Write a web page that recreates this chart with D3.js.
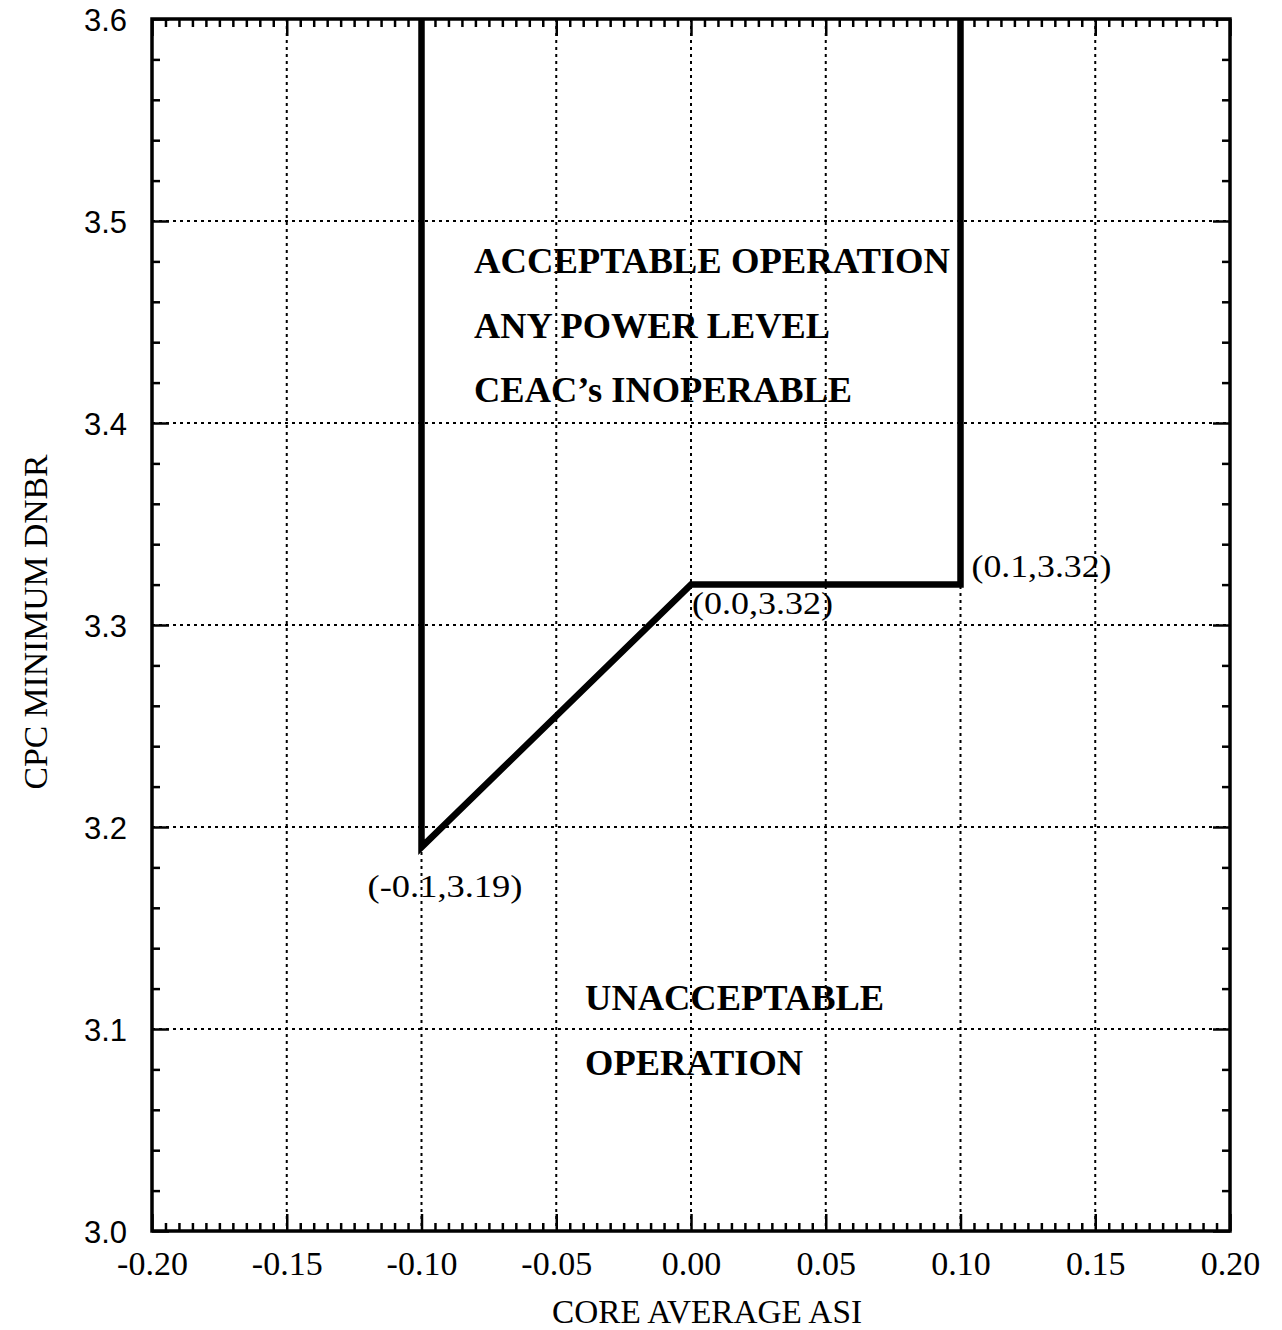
<!DOCTYPE html>
<html><head><meta charset="utf-8">
<script src="https://cdn.jsdelivr.net/npm/d3@7"></script>
<style>body{margin:0;background:#fff;} svg{display:block;font-family:"Liberation Serif","Times New Roman",serif;}</style>
</head><body>
<svg id="c" width="1282" height="1330"></svg>
<script>
const xTicks = [-0.20,-0.15,-0.10,-0.05,0.00,0.05,0.10,0.15,0.20];
const xTickLabels = ["-0.20","-0.15","-0.10","-0.05","0.00","0.05","0.10","0.15","0.20"];
const yTicks = [3.0,3.1,3.2,3.3,3.4,3.5,3.6];
const yTickLabels = ["3.0","3.1","3.2","3.3","3.4","3.5","3.6"];
const limitX = [-0.1,-0.1,0.0,0.1,0.1];
const limitY = [3.6,3.19,3.32,3.32,3.6];
const pointLabels = ["(-0.1,3.19)","(0.0,3.32)","(0.1,3.32)"];
const pointLabelX = [-0.1,0.0,0.1];
const pointLabelY = [3.19,3.32,3.32];
const regionLines = ["ACCEPTABLE OPERATION","ANY POWER LEVEL","CEAC\u2019s INOPERABLE","UNACCEPTABLE","OPERATION"];
const xTitle = "CORE AVERAGE ASI";
const yTitle = "CPC MINIMUM DNBR";

const svg = d3.select("#c");
const L=152,R=1230,T=19,B=1231;
const x = d3.scaleLinear().domain([-0.2,0.2]).range([L,R]);
const y = d3.scaleLinear().domain([3.0,3.6]).range([B,T]);

// grid
const g = svg.append("g");
g.selectAll(".gx").data(xTicks.slice(1,-1)).join("line")
 .attr("x1",d=>x(d)).attr("x2",d=>x(d)).attr("y1",T).attr("y2",B)
 .attr("stroke","#000").attr("stroke-width",2).attr("stroke-dasharray","3,4");
g.selectAll(".gy").data(yTicks.slice(1,-1)).join("line")
 .attr("y1",d=>y(d)).attr("y2",d=>y(d)).attr("x1",L).attr("x2",R)
 .attr("stroke","#000").attr("stroke-width",2).attr("stroke-dasharray","3,4");

// axes with inward ticks
const xMinor = d3.range(0,81).map(i=>-0.2+i*0.005).filter(v=>Math.abs(Math.round(v*20)-v*20)>1e-6);
const yMinor = d3.range(0,31).map(i=>3.0+i*0.02).filter(v=>Math.abs(Math.round(v*10)-v*10)>1e-6);
function styleAxis(sel){sel.selectAll(".domain").remove();sel.selectAll(".tick line").attr("stroke","#000").attr("stroke-width",2.5);}
const fmtX = (d)=>xTickLabels[xTicks.findIndex(t=>Math.abs(t-d)<1e-9)];
const fmtY = (d)=>yTickLabels[yTicks.findIndex(t=>Math.abs(t-d)<1e-9)];

const xb = svg.append("g").attr("transform",`translate(0,${B})`)
 .call(d3.axisBottom(x).tickValues(xTicks).tickSize(-17).tickFormat(fmtX));
styleAxis(xb);
xb.selectAll("text").attr("font-size",34).attr("fill","#000").attr("font-family","Liberation Serif")
 .attr("y",44).attr("dy",0);
svg.append("g").attr("transform",`translate(0,${B})`).call(d3.axisBottom(x).tickValues(xMinor).tickSize(-8).tickFormat("")).call(styleAxis);
svg.append("g").attr("transform",`translate(0,${T})`).call(d3.axisTop(x).tickValues(xTicks).tickSize(-17).tickFormat("")).call(styleAxis);
svg.append("g").attr("transform",`translate(0,${T})`).call(d3.axisTop(x).tickValues(xMinor).tickSize(-8).tickFormat("")).call(styleAxis);

const yl = svg.append("g").attr("transform",`translate(${L},0)`)
 .call(d3.axisLeft(y).tickValues(yTicks).tickSize(-17).tickFormat(fmtY));
styleAxis(yl);
yl.selectAll("text").attr("font-size",31).attr("fill","#000").attr("font-family","Liberation Sans")
 .attr("x",-25).attr("dy","0.36em");
svg.append("g").attr("transform",`translate(${L},0)`).call(d3.axisLeft(y).tickValues(yMinor).tickSize(-8).tickFormat("")).call(styleAxis);
svg.append("g").attr("transform",`translate(${R},0)`).call(d3.axisRight(y).tickValues(yTicks).tickSize(-17).tickFormat("")).call(styleAxis);
svg.append("g").attr("transform",`translate(${R},0)`).call(d3.axisRight(y).tickValues(yMinor).tickSize(-8).tickFormat("")).call(styleAxis);

// frame
svg.append("rect").attr("x",L).attr("y",T).attr("width",R-L).attr("height",B-T)
 .attr("fill","none").attr("stroke","#000").attr("stroke-width",3.5);

// limit line
svg.append("path").datum(limitX.map((v,i)=>[v,limitY[i]]))
 .attr("d",d3.line().x(d=>x(d[0])).y(d=>y(d[1])))
 .attr("fill","none").attr("stroke","#000").attr("stroke-width",6.5).attr("stroke-linejoin","miter");

// point labels
const plDx=[-54,1,11], plDy=[50,29,-8], plW=[155,141,140];
svg.selectAll(".pl").data(pointLabels).join("text")
 .attr("x",(d,i)=>x(pointLabelX[i])+plDx[i]).attr("y",(d,i)=>y(pointLabelY[i])+plDy[i])
 .attr("font-size",31).attr("textLength",(d,i)=>plW[i]).attr("lengthAdjust","spacingAndGlyphs").text(d=>d);

// region text
const rx=[-0.0805,-0.0805,-0.0805,-0.0393,-0.0393];
const ry=[3.4745,3.4423,3.4105,3.1093,3.077];
const rw=[476,356,378,299,218];
svg.selectAll(".rt").data(regionLines).join("text")
 .attr("x",(d,i)=>x(rx[i])).attr("y",(d,i)=>y(ry[i]))
 .attr("font-size",35).attr("font-weight","bold")
 .attr("textLength",(d,i)=>rw[i]).attr("lengthAdjust","spacingAndGlyphs").text(d=>d);

// titles
svg.append("text").attr("x",x(0.0)+16).attr("y",1323).attr("text-anchor","middle").attr("font-size",33)
 .attr("textLength",310).attr("lengthAdjust","spacingAndGlyphs").text(xTitle);
svg.append("text").attr("transform",`translate(47,${y(3.3)-3}) rotate(-90)`).attr("text-anchor","middle").attr("font-size",33)
 .attr("textLength",335).attr("lengthAdjust","spacingAndGlyphs").text(yTitle);
</script>
</body></html>
